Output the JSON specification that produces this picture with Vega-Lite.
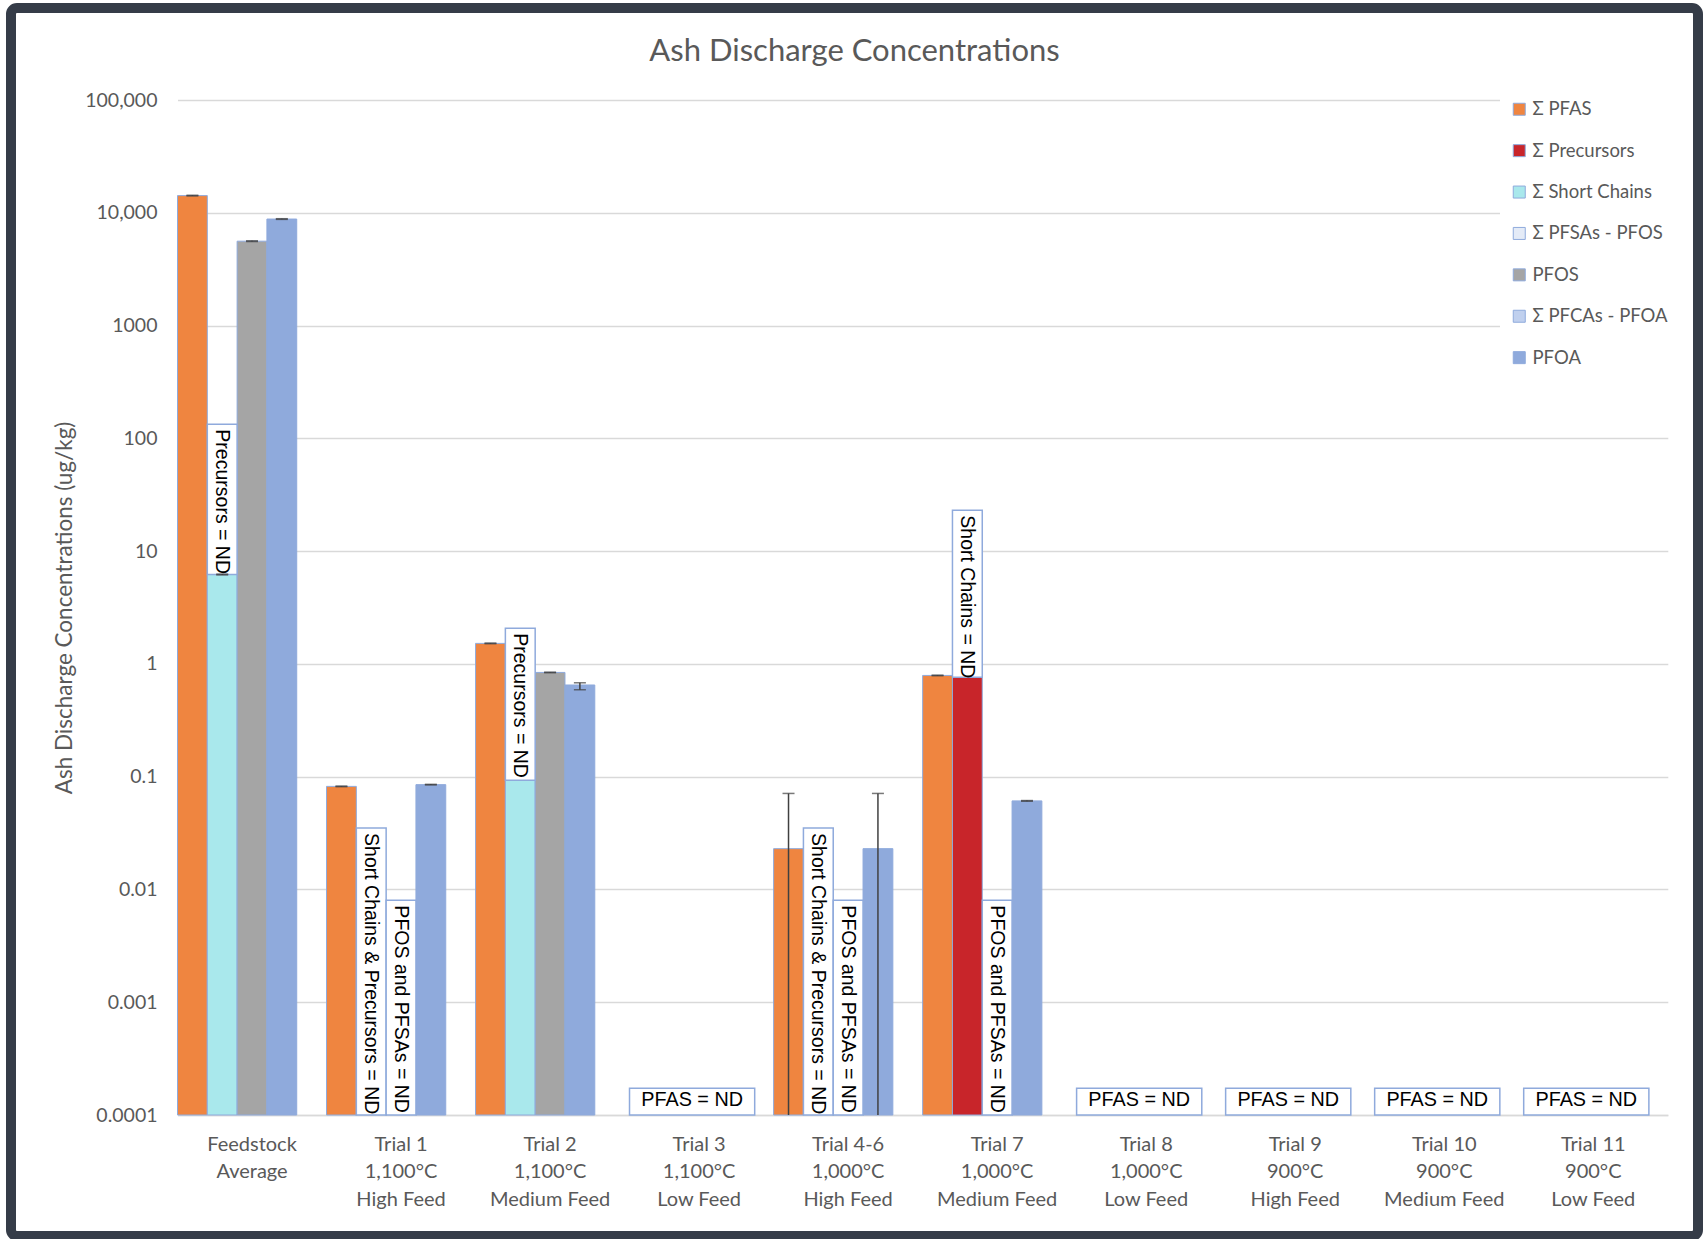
{
  "$schema": "https://vega.github.io/schema/vega-lite/v6.json",
  "width": 1687,
  "height": 1228,
  "autosize": {"type": "none"},
  "padding": {"left": 11, "top": 8, "right": 5, "bottom": 3},
  "background": "white",
  "config": {
    "view": {"stroke": "#353c48", "strokeWidth": 10, "fill": "white", "cornerRadius": 6},
    "font": "Lato"
  },
  "title": {
    "text": "Ash Discharge Concentrations",
    "font": "Lato",
    "fontSize": 31,
    "fontWeight": "normal",
    "color": "#595959",
    "anchor": "middle",
    "frame": "group",
    "offset": -60
  },
  "datasets": {
    "bars": [
      {"group": "Feedstock|Average", "series": "Σ PFAS", "slot": 1, "value": 14200, "lo": 14100, "hi": 14300},
      {"group": "Feedstock|Average", "series": "Σ Short Chains", "slot": 2, "value": 6.2, "lo": 6.15, "hi": 6.25},
      {"group": "Feedstock|Average", "series": "PFOS", "slot": 3, "value": 5600, "lo": 5560, "hi": 5640},
      {"group": "Feedstock|Average", "series": "PFOA", "slot": 4, "value": 8800, "lo": 8740, "hi": 8860},
      {"group": "Trial 1|1,100°C|High Feed", "series": "Σ PFAS", "slot": 1, "value": 0.082, "lo": 0.0815, "hi": 0.0825},
      {"group": "Trial 1|1,100°C|High Feed", "series": "PFOA", "slot": 4, "value": 0.085, "lo": 0.0845, "hi": 0.0855},
      {"group": "Trial 2|1,100°C|Medium Feed", "series": "Σ PFAS", "slot": 1, "value": 1.52, "lo": 1.51, "hi": 1.53},
      {"group": "Trial 2|1,100°C|Medium Feed", "series": "Σ Short Chains", "slot": 2, "value": 0.093},
      {"group": "Trial 2|1,100°C|Medium Feed", "series": "PFOS", "slot": 3, "value": 0.84, "lo": 0.835, "hi": 0.845},
      {"group": "Trial 2|1,100°C|Medium Feed", "series": "PFOA", "slot": 4, "value": 0.65, "lo": 0.59, "hi": 0.68},
      {"group": "Trial 4-6|1,000°C|High Feed", "series": "Σ PFAS", "slot": 1, "value": 0.023, "lo": 0.0001, "hi": 0.071},
      {"group": "Trial 4-6|1,000°C|High Feed", "series": "PFOA", "slot": 4, "value": 0.023, "lo": 0.0001, "hi": 0.071},
      {"group": "Trial 7|1,000°C|Medium Feed", "series": "Σ PFAS", "slot": 1, "value": 0.79, "lo": 0.785, "hi": 0.795},
      {"group": "Trial 7|1,000°C|Medium Feed", "series": "Σ Precursors", "slot": 2, "value": 0.76},
      {"group": "Trial 7|1,000°C|Medium Feed", "series": "PFOA", "slot": 4, "value": 0.061, "lo": 0.0606, "hi": 0.0614}
    ],
    "ndVertical": [
      {"group": "Feedstock|Average", "slot": 2, "label": "Precursors = ND", "base": 6.2, "top": 133},
      {"group": "Trial 1|1,100°C|High Feed", "slot": 2, "label": "Short Chains & Precursors = ND", "base": 0.0001, "top": 0.035},
      {"group": "Trial 1|1,100°C|High Feed", "slot": 3, "label": "PFOS and PFSAs = ND", "base": 0.0001, "top": 0.008},
      {"group": "Trial 2|1,100°C|Medium Feed", "slot": 2, "label": "Precursors = ND", "base": 0.093, "top": 2.07},
      {"group": "Trial 4-6|1,000°C|High Feed", "slot": 2, "label": "Short Chains & Precursors = ND", "base": 0.0001, "top": 0.035},
      {"group": "Trial 4-6|1,000°C|High Feed", "slot": 3, "label": "PFOS and PFSAs = ND", "base": 0.0001, "top": 0.008},
      {"group": "Trial 7|1,000°C|Medium Feed", "slot": 2, "label": "Short Chains = ND", "base": 0.76, "top": 23},
      {"group": "Trial 7|1,000°C|Medium Feed", "slot": 3, "label": "PFOS and PFSAs = ND", "base": 0.0001, "top": 0.008}
    ],
    "ndFlat": [
      {"group": "Trial 3|1,100°C|Low Feed", "label": "PFAS = ND", "top": 0.000173},
      {"group": "Trial 8|1,000°C|Low Feed", "label": "PFAS = ND", "top": 0.000173},
      {"group": "Trial 9|900°C|High Feed", "label": "PFAS = ND", "top": 0.000173},
      {"group": "Trial 10|900°C|Medium Feed", "label": "PFAS = ND", "top": 0.000173},
      {"group": "Trial 11|900°C|Low Feed", "label": "PFAS = ND", "top": 0.000173}
    ]
  },
  "layer": [
    {
      "data": {"name": "bars"},
      "mark": {"type": "bar", "stroke": "#8FAADC", "strokeWidth": 1},
      "encoding": {
        "x": {
          "field": "group",
          "type": "nominal",
          "sort": null,
          "scale": {
            "domain": [
              "Feedstock|Average",
              "Trial 1|1,100°C|High Feed",
              "Trial 2|1,100°C|Medium Feed",
              "Trial 3|1,100°C|Low Feed",
              "Trial 4-6|1,000°C|High Feed",
              "Trial 7|1,000°C|Medium Feed",
              "Trial 8|1,000°C|Low Feed",
              "Trial 9|900°C|High Feed",
              "Trial 10|900°C|Medium Feed",
              "Trial 11|900°C|Low Feed"
            ],
            "range": [166.5, 1656.8],
            "paddingInner": 0,
            "paddingOuter": 0
          },
          "axis": {
            "title": null,
            "orient": "bottom",
            "offset": -121,
            "grid": false,
            "ticks": false,
            "domain": true,
            "domainColor": "#D9D9D9",
            "domainWidth": 1.5,
            "labelAngle": 0,
            "labelPadding": 19,
            "labelExpr": "split(datum.label, '|')",
            "labelLineHeight": 27.7,
            "labelFont": "Lato",
            "labelFontSize": 20,
            "labelColor": "#595959"
          }
        },
        "xOffset": {
          "field": "slot",
          "type": "ordinal",
          "scale": {"domain": [1, 2, 3, 4, 5], "paddingInner": 0, "paddingOuter": 0}
        },
        "y": {
          "field": "value",
          "type": "quantitative",
          "scale": {"type": "log", "domain": [0.0001, 100000], "range": [1107, 92], "nice": false},
          "axis": {
            "title": "Ash Discharge Concentrations (ug/kg)",
            "offset": -166,
            "values": [0.0001, 0.001, 0.01, 0.1, 1, 10, 100, 1000, 10000, 100000],
            "labelExpr": "datum.value >= 10000 ? format(datum.value, ',') : toString(datum.value)",
            "grid": true,
            "gridColor": "#D9D9D9",
            "gridWidth": 1.5,
            "domain": false,
            "ticks": false,
            "labelPadding": 20,
            "labelFont": "Lato",
            "labelFontSize": 19.5,
            "labelColor": "#595959",
            "titleFont": "Lato",
            "titleFontSize": 22.5,
            "titleFontWeight": "normal",
            "titleColor": "#595959",
            "titlePadding": 8
          }
        },
        "y2": {"datum": 0.0001},
        "color": {
          "field": "series",
          "type": "nominal",
          "scale": {
            "domain": ["Σ PFAS", "Σ Precursors", "Σ Short Chains", "Σ PFSAs - PFOS", "PFOS", "Σ PFCAs - PFOA", "PFOA"],
            "range": ["#EF8540", "#C8252A", "#A9E8EC", "#E4EBF7", "#A5A5A5", "#C0D0EE", "#8FAADC"]
          },
          "legend": {
            "title": null,
            "orient": "none",
            "legendX": 1489,
            "legendY": 82,
            "direction": "vertical",
            "symbolType": "square",
            "symbolSize": 144,
            "symbolStrokeColor": "#8FAADC",
            "symbolStrokeWidth": 1,
            "labelFont": "Lato",
            "labelFontSize": 18.5,
            "labelColor": "#595959",
            "labelOffset": 4,
            "rowPadding": 22.4,
            "padding": 10,
            "fillColor": "white"
          }
        }
      }
    },
    {
      "data": {"name": "ndVertical"},
      "mark": {"type": "bar", "fill": "white", "stroke": "#8FAADC", "strokeWidth": 1.5},
      "encoding": {
        "x": {"field": "group", "type": "nominal", "sort": null},
        "xOffset": {"field": "slot", "type": "ordinal"},
        "y": {"field": "top", "type": "quantitative"},
        "y2": {"field": "base"}
      }
    },
    {
      "data": {"name": "ndVertical"},
      "mark": {"type": "text", "angle": 90, "align": "left", "baseline": "middle", "dx": 5, "font": "Liberation Sans", "fontSize": 19.5, "color": "black"},
      "encoding": {
        "x": {"field": "group", "type": "nominal", "sort": null},
        "xOffset": {"field": "slot", "type": "ordinal"},
        "y": {"field": "top", "type": "quantitative"},
        "text": {"field": "label"}
      }
    },
    {
      "data": {"name": "ndFlat"},
      "mark": {"type": "bar", "fill": "white", "stroke": "#8FAADC", "strokeWidth": 1.5, "width": {"band": 0.84}, "xOffset": -7},
      "encoding": {
        "x": {"field": "group", "type": "nominal", "sort": null},
        "y": {"field": "top", "type": "quantitative"},
        "y2": {"datum": 0.0001}
      }
    },
    {
      "data": {"name": "ndFlat"},
      "mark": {"type": "text", "align": "center", "baseline": "bottom", "dy": -5, "dx": -7, "font": "Liberation Sans", "fontSize": 19.8, "color": "black"},
      "encoding": {
        "x": {"field": "group", "type": "nominal", "sort": null},
        "y": {"datum": 0.0001},
        "text": {"field": "label"}
      }
    },
    {
      "data": {"name": "bars"},
      "transform": [{"filter": "isValid(datum.lo)"}],
      "mark": {"type": "rule", "color": "#404040", "strokeWidth": 1.5},
      "encoding": {
        "x": {"field": "group", "type": "nominal", "sort": null},
        "xOffset": {"field": "slot", "type": "ordinal"},
        "y": {"field": "lo", "type": "quantitative"},
        "y2": {"field": "hi"}
      }
    },
    {
      "data": {"name": "bars"},
      "transform": [
        {"filter": "isValid(datum.lo)"},
        {"fold": ["lo", "hi"], "as": ["end", "at"]},
        {"filter": "datum.at > 0.0001"}
      ],
      "mark": {"type": "tick", "size": 12, "thickness": 1.5, "color": "#404040"},
      "encoding": {
        "x": {"field": "group", "type": "nominal", "sort": null},
        "xOffset": {"field": "slot", "type": "ordinal"},
        "y": {"field": "at", "type": "quantitative"}
      }
    }
  ]
}
